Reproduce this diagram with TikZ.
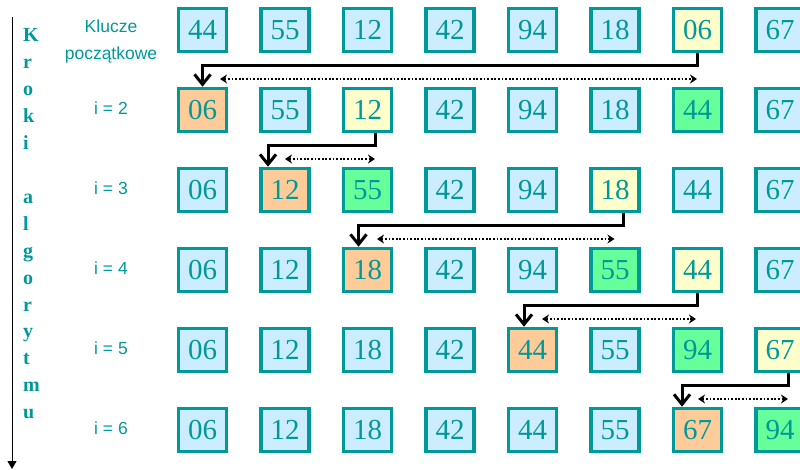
\documentclass[tikz,border=0pt]{standalone}
\usepackage{fontspec}
\setmainfont{Liberation Serif}
\newfontfamily\labelfont{Liberation Sans}
\usetikzlibrary{arrows.meta}
\definecolor{tealc}{RGB}{0,153,153}
\definecolor{boxb}{RGB}{204,236,255}
\definecolor{boxo}{RGB}{255,204,153}
\definecolor{boxy}{RGB}{255,255,204}
\definecolor{boxg}{RGB}{102,255,153}
\begin{document}
\begin{tikzpicture}[x=1pt,y=-1pt,
  keybox/.style={draw=tealc, line width=3.5pt, minimum width=48pt, minimum height=43pt,
    inner sep=0pt, text=tealc, font=\fontsize{29}{29}\selectfont},
  rowlab/.style={text=tealc, font=\labelfont\fontsize{17.5}{27}\selectfont, align=center, inner sep=0pt},
  letter/.style={text=tealc, font=\fontsize{20}{20}\selectfont\bfseries, anchor=base west, inner sep=0pt},
  movearrow/.style={draw=black, line width=3pt, line join=miter,
    -{Straight Barb[length=10pt,width=16pt,line width=3pt]}},
  swaparrow/.style={draw=black, line width=1.8pt, dash pattern=on 1.8pt off 1.8pt,
    {Stealth[length=7pt,width=9pt]}-{Stealth[length=7pt,width=9pt]}},
  axisarrow/.style={draw=black, line width=1pt, -{Triangle[length=8pt,width=9pt]}}
]
\useasboundingbox (0,0) rectangle (800,470);

% boxes
\foreach \r/\lst in {
  1/{44/b,55/b,12/b,42/b,94/b,18/b,06/y,67/b},
  2/{06/o,55/b,12/y,42/b,94/b,18/b,44/g,67/b},
  3/{06/b,12/o,55/g,42/b,94/b,18/y,44/b,67/b},
  4/{06/b,12/b,18/o,42/b,94/b,55/g,44/y,67/b},
  5/{06/b,12/b,18/b,42/b,44/o,55/b,94/g,67/y},
  6/{06/b,12/b,18/b,42/b,44/b,55/b,67/o,94/g}}{
  \foreach \v/\f [count=\c] in \lst {
    \node[keybox, fill=box\f] (k\r-\c) at ({202.5+82.5*(\c-1)},{30+80*(\r-1)}) {\v};
  }
}

% row labels
\node[rowlab] (lab1) at (111,41.5) {Klucze\\początkowe};
\foreach \i in {2,...,6}{
  \node[rowlab] (lab\i) at (111,{108+80*(\i-2)}) {i = \i};
}

% left axis
\coordinate (axtop) at (12,17);
\coordinate (axbot) at (12,469);
\draw[axisarrow] (axtop) -- (axbot);
\foreach \l/\n in {K/0,r/1,o/2,k/3,i/4,a/6,l/7,g/8,o/9,r/10,y/11,t/12,m/13,u/14}{
  \node[letter] (L\n) at (23,{42+26.9*\n}) {\l};
}

% moves (solid)
\draw[movearrow] (k1-7.south) -- ++(0,12) -| (k2-1.north);
\draw[movearrow] ([xshift=7.5pt]k2-3.south) -- ++(0,12) -| ([xshift=-17pt]k3-2.north);
\draw[movearrow] ([xshift=8pt]k3-6.south) -- ++(0,12) -| ([xshift=-9pt]k4-3.north);
\draw[movearrow] (k4-7.south) -- ++(0,12) -| ([xshift=-8.5pt]k5-5.north);
\draw[movearrow] ([xshift=8pt]k5-8.south) -- ++(0,12) -| ([xshift=-15.5pt]k6-7.north);

% shifts (dotted)
\draw[swaparrow] ([shift={(17.5,-31)}]k2-1.center) -- ([shift={(-0.5,-31)}]k2-7.center);
\draw[swaparrow] ([shift={(0,-31)}]k3-2.center) -- ([shift={(7.5,-31)}]k3-3.center);
\draw[swaparrow] ([shift={(9.5,-31)}]k4-3.center) -- ([shift={(-0.5,-31)}]k4-6.center);
\draw[swaparrow] ([shift={(9.5,-31)}]k5-5.center) -- ([shift={(-1.5,-31)}]k5-7.center);
\draw[swaparrow] ([shift={(0.5,-31)}]k6-7.center) -- ([shift={(8,-31)}]k6-8.center);
\end{tikzpicture}
\end{document}
